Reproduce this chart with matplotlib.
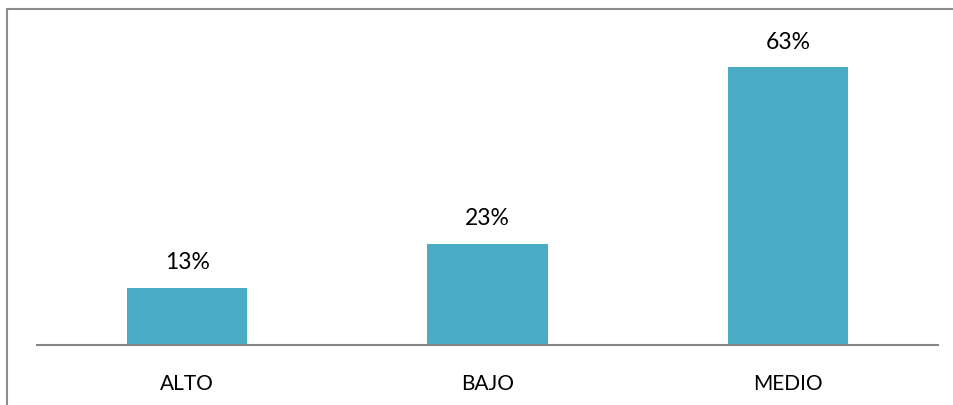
import matplotlib
matplotlib.use("Agg")
import matplotlib.pyplot as plt
from matplotlib.lines import Line2D

categories = ["ALTO", "BAJO", "MEDIO"]
values = [13, 23, 63]
value_labels = ["13%", "23%", "63%"]

W, H = 954, 406
fig = plt.figure(figsize=(W / 100, H / 100), dpi=100)
plt.rcParams['font.family'] = ['Lato', 'DejaVu Sans']

# axes: x 37..938, baseline at y=346, top at y=20
left, right = 37 / W, 938 / W
bottom = 1 - 346 / H
top = 1 - 20 / H
ax = fig.add_axes([left, bottom, right - left, top - bottom])

x = list(range(len(categories)))
ax.bar(x, values, width=0.4, color="#4BACC6")
ax.set_xlim(-0.5, len(categories) - 0.5)
ax.set_ylim(0, (346 - 20) / 4.41)

for xi, v, lab in zip(x, values, value_labels):
    ax.annotate(lab, (xi, v), xytext=(0, 11), textcoords="offset points",
                ha="center", va="bottom", fontsize=16.5, color="black")

ax.set_xticks(x)
ax.set_xticklabels(categories, fontsize=15, color="black")
ax.tick_params(axis="x", length=0, pad=20)
ax.set_yticks([])
for s in ["top", "right", "left"]:
    ax.spines[s].set_visible(False)
ax.spines["bottom"].set_color("#868686")
ax.spines["bottom"].set_linewidth(1.5)

# outer frame (top and left edges)
fig.add_artist(Line2D([7.5 / W, 1.0], [1 - 10 / H, 1 - 10 / H], transform=fig.transFigure,
                      color="#8c8c8c", linewidth=1.5))
fig.add_artist(Line2D([7.5 / W, 7.5 / W], [0, 1 - 10 / H], transform=fig.transFigure,
                      color="#8c8c8c", linewidth=1.5))

fig.savefig("out.png", dpi=100)
